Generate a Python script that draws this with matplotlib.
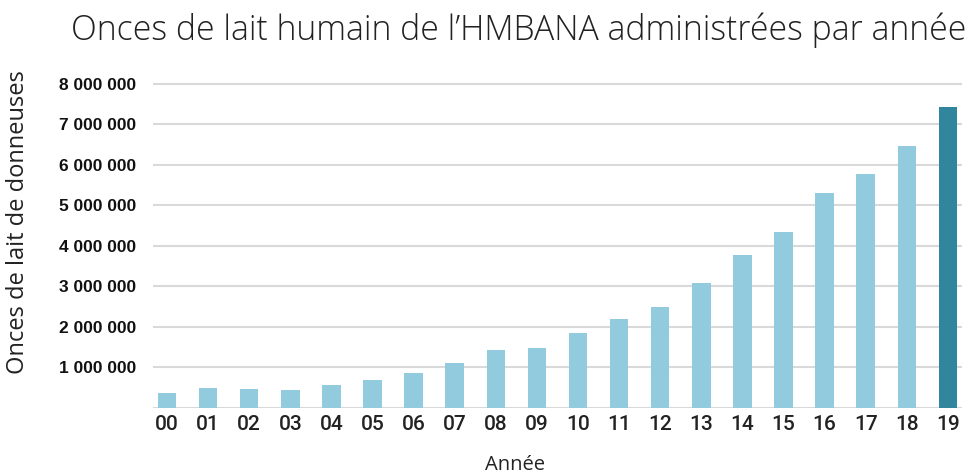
import matplotlib
matplotlib.use('Agg')
import matplotlib.pyplot as plt
import numpy as np

years = ['00', '01', '02', '03', '04', '05', '06', '07', '08', '09',
         '10', '11', '12', '13', '14', '15', '16', '17', '18', '19']
ounces = [360000, 490000, 465000, 445000, 575000, 700000, 870000, 1110000,
          1440000, 1490000, 1840000, 2200000, 2480000, 3080000, 3780000,
          4350000, 5310000, 5780000, 6470000, 7430000]
yticks = [1000000, 2000000, 3000000, 4000000, 5000000, 6000000, 7000000, 8000000]
ytick_labels = ['{:,}'.format(v).replace(',', ' ') for v in yticks]

light = '#92CBDD'
dark = '#31859C'
colors = [light] * (len(years) - 1) + [dark]

fig = plt.figure(figsize=(9.72, 4.75), dpi=100)
ax = fig.add_axes([0.157, 0.141, 0.833, 0.70])

x = np.arange(len(years))
ax.bar(x, ounces, width=0.45, color=colors, zorder=3)

ax.set_ylim(0, 8.2e6)
ax.set_xlim(-0.35, 19.35)
ax.set_yticks(yticks)
ax.set_yticklabels(ytick_labels, family='Liberation Sans',
                   fontweight='bold', fontsize=12.5, color='#111111')
ax.set_xticks(x)
ax.set_xticklabels(years, family='Roboto', fontweight='medium',
                   fontsize=15, color='#222222')
ax.tick_params(axis='y', length=0, pad=12)
ax.tick_params(axis='x', length=0, pad=5)

ax.grid(axis='y', color='#D9D9D9', linewidth=1.5, zorder=0)
ax.axhline(0, color='#D9D9D9', linewidth=1.5, zorder=1)
for s in ax.spines.values():
    s.set_visible(False)

fig.text(0.534, 0.937, 'Onces de lait humain de l\u2019HMBANA administrées par année',
         ha='center', va='center', fontsize=24.3, family='Open Sans',
         fontweight='light', color='#222222')
fig.text(0.019, 0.533, 'Onces de lait de donneuses', rotation=90, ha='center',
         va='center', fontsize=17, family='Open Sans', color='#222222')
fig.text(0.53, 0.02, 'Année', ha='center', va='center', fontsize=14.5,
         family='Open Sans', color='#222222')

plt.savefig('out.png', dpi=100)
